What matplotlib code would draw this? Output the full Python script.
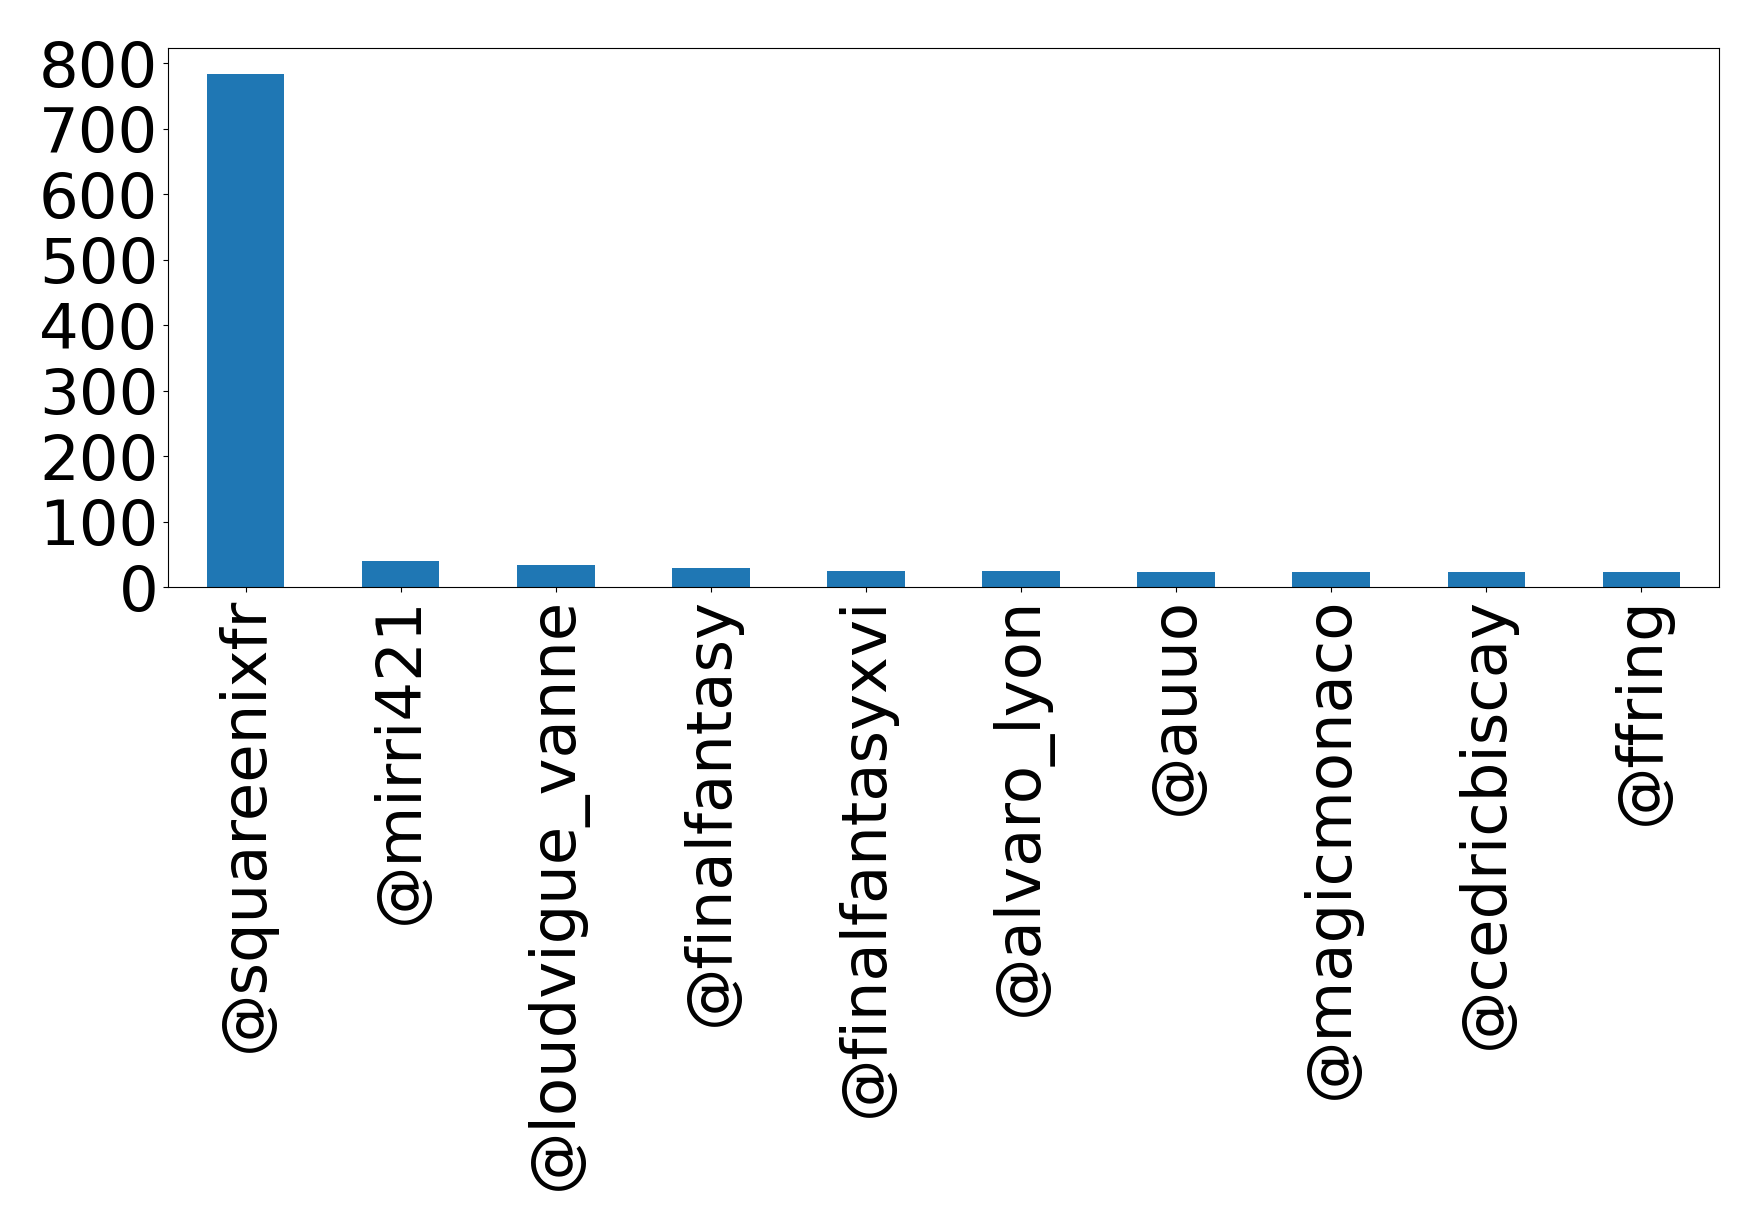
import matplotlib
matplotlib.use("Agg")
import matplotlib.pyplot as plt

# Mention counts per account
accounts = ["@squareenixfr", "@mirri421", "@loudvigue_vanne", "@finalfantasy", "@finalfantasyxvi",
            "@alvaro_lyon", "@auuo", "@magicmonaco", "@cedricbiscay", "@ffring"]
counts = [784, 40, 34, 29, 25, 25, 23, 23, 23, 23]

fig = plt.figure(figsize=(17.59, 12.3), dpi=100)
ax = fig.add_axes([168 / 1759, 1 - 587 / 1230, (1719 - 168) / 1759, (587 - 48) / 1230])

x = range(len(accounts))
ax.bar(x, counts, width=0.5, color="#1f77b4")
ax.set_xlim(-0.5, len(accounts) - 0.5)
ax.set_ylim(0, 823)
ax.set_yticks(range(0, 801, 100))
ax.set_xticks(list(x))
ax.set_xticklabels(accounts, rotation=90)
ax.tick_params(axis="both", labelsize=45)

fig.savefig("out.png", dpi=100)
